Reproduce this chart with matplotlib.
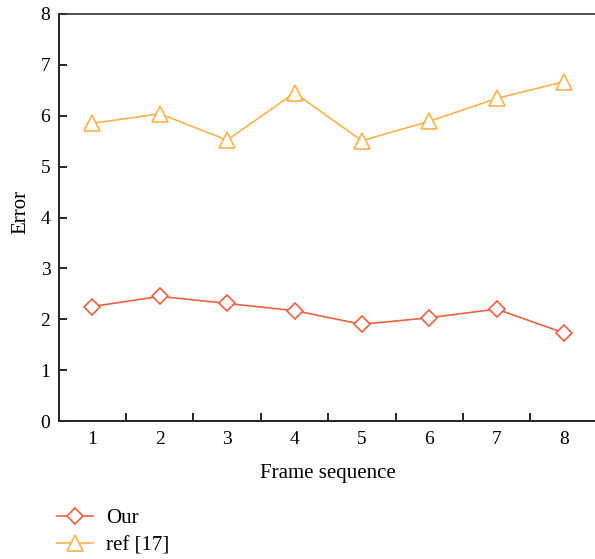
import matplotlib
matplotlib.use("Agg")
import matplotlib.pyplot as plt

frames = [1, 2, 3, 4, 5, 6, 7, 8]
our = [2.25, 2.45, 2.31, 2.17, 1.90, 2.03, 2.20, 1.73]
ref17 = [5.85, 6.04, 5.52, 6.45, 5.51, 5.89, 6.34, 6.67]
series_labels = ["Our", "ref [17]"]
x_label = "Frame sequence"
y_label = "Error"

plt.rcParams['font.family'] = ['Liberation Serif', 'DejaVu Serif']
plt.rcParams['font.size'] = 14

W, H = 595, 559
fig = plt.figure(figsize=(W / 100, H / 100), dpi=100)
ax = fig.add_axes([58.7 / W, 138 / H, 539 / W, 407 / H])

c_our = '#F0603F'
c_ref = '#FBB24A'
ax.plot(frames, our, color=c_our, lw=1.2, marker='D', ms=8, mfc='white',
        mec=c_our, mew=1.2, label=series_labels[0], clip_on=False)
ax.plot(frames, ref17, color=c_ref, lw=1.2, marker='^', ms=11, mfc='white',
        mec=c_ref, mew=1.2, label=series_labels[1], clip_on=False)

ax.set_xlim(0.5, 8.5)
ax.set_ylim(0, 8)
ax.set_yticks(range(0, 9))
ax.set_xticks(frames)
ax.set_xticks([1.5 + i for i in range(7)], minor=True)
ax.tick_params(axis='x', which='major', length=0, pad=7, labelsize=14)
ax.tick_params(axis='x', which='minor', direction='in', length=6, width=1.2)
ax.tick_params(axis='y', direction='in', length=6, width=1.2, pad=6, labelsize=14)

for s in ['left', 'bottom']:
    ax.spines[s].set_linewidth(1.4)
    ax.spines[s].set_color('#222222')
ax.spines['top'].set_linewidth(1.2)
ax.spines['top'].set_color('#333333')
ax.spines['right'].set_visible(False)

ax.set_xlabel(x_label, fontsize=15, labelpad=12)
ax.set_ylabel(y_label, fontsize=15)
ax.yaxis.set_label_coords(-0.053, 0.514)

fig.legend(loc='center left', bbox_to_anchor=(57 / W, 1 - 532 / H),
           frameon=False, fontsize=15, handlelength=1.75, handletextpad=0.6,
           labelspacing=0.35, borderpad=0, borderaxespad=0)

fig.savefig('out.png', dpi=100)
